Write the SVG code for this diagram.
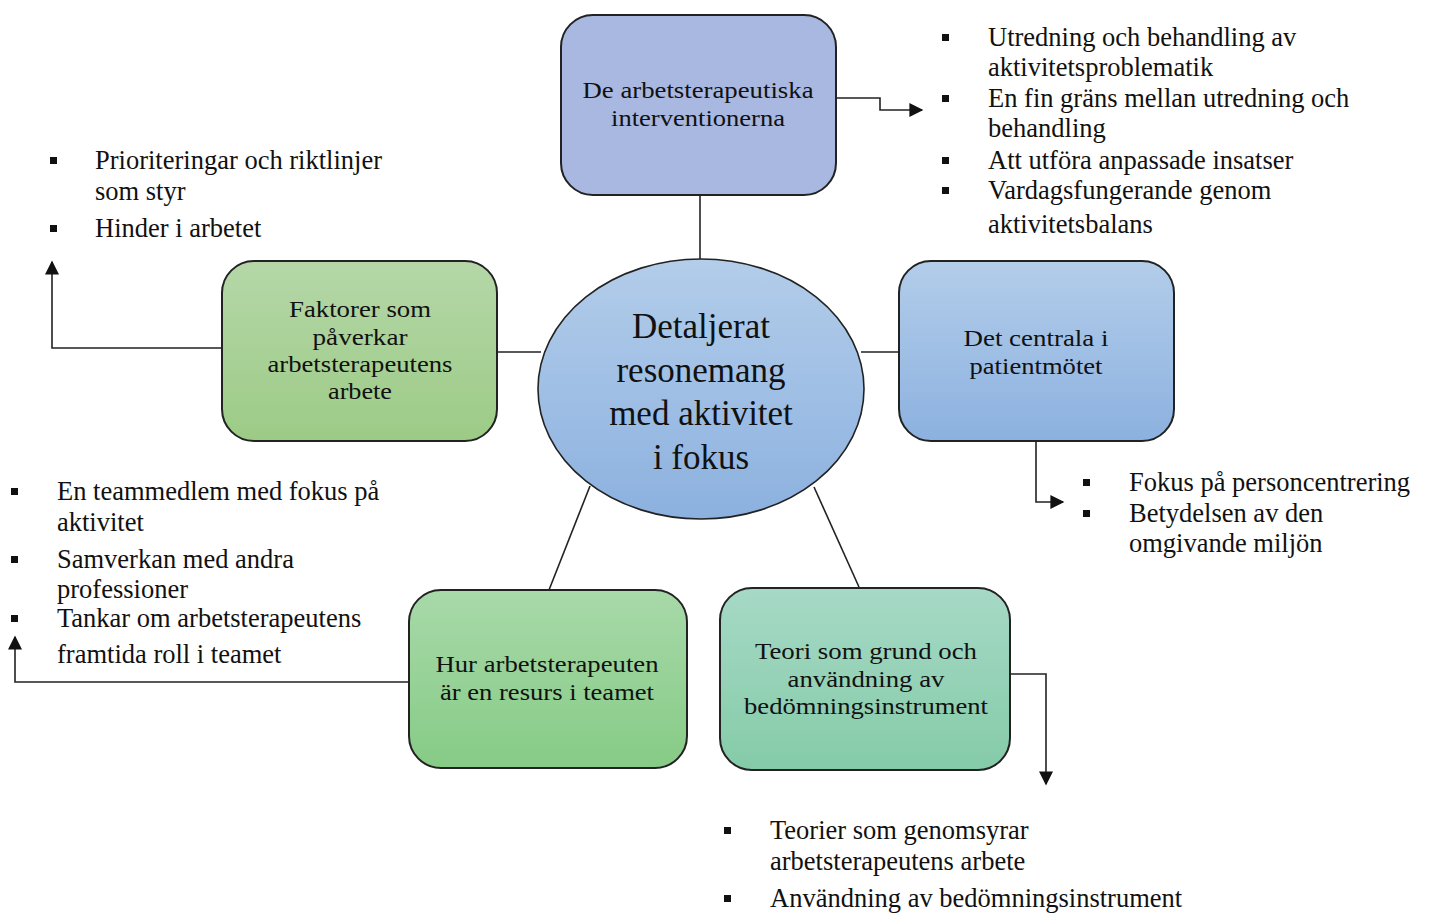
<svg xmlns="http://www.w3.org/2000/svg" width="1429" height="914" viewBox="0 0 1429 914">
<style>
.box{stroke:#222;stroke-width:2}
.nt{font-family:"Liberation Serif",serif;font-size:24px;fill:#111;text-anchor:middle}
.ct{font-family:"Liberation Serif",serif;font-size:35px;fill:#111;text-anchor:middle}
.bt{font-family:"Liberation Serif",serif;font-size:26.5px;fill:#111}
.ln{stroke:#222;stroke-width:1.6;fill:none}
.bul{fill:#111}
</style>
<defs>
<linearGradient id="gBlue" x1="0" y1="0" x2="0" y2="1"><stop offset="0" stop-color="#b3cdea"/><stop offset="1" stop-color="#8cb1df"/></linearGradient>
<linearGradient id="gGreen1" x1="0" y1="0" x2="0" y2="1"><stop offset="0" stop-color="#b5d7a8"/><stop offset="1" stop-color="#9ccb86"/></linearGradient>
<linearGradient id="gGreen2" x1="0" y1="0" x2="0" y2="1"><stop offset="0" stop-color="#a8d9a9"/><stop offset="1" stop-color="#86cb86"/></linearGradient>
<linearGradient id="gTeal" x1="0" y1="0" x2="0" y2="1"><stop offset="0" stop-color="#a6d9c6"/><stop offset="1" stop-color="#85cba8"/></linearGradient>
<marker id="arrL" viewBox="0 0 10 10" refX="9" refY="5" markerWidth="16" markerHeight="14" markerUnits="userSpaceOnUse" orient="auto"><path d="M0,0 L10,5 L0,10 z" fill="#111"/></marker>
</defs>

<g id="connectors">
<line class="ln" x1="700" y1="195" x2="700" y2="260"/>
<line class="ln" x1="497" y1="352" x2="541" y2="352"/>
<line class="ln" x1="861" y1="352" x2="899" y2="352"/>
<line class="ln" x1="590" y1="486" x2="549" y2="590"/>
<line class="ln" x1="814" y1="487" x2="859" y2="587"/>
<path class="ln" d="M836,98 H880 V110 H922" marker-end="url(#arrL)"/>
<path class="ln" d="M222,348 H52 V262" marker-end="url(#arrL)"/>
<path class="ln" d="M1036,441 V502 H1063" marker-end="url(#arrL)"/>
<path class="ln" d="M409,682 H15 V637" marker-end="url(#arrL)"/>
<path class="ln" d="M1010,674 H1046 V784" marker-end="url(#arrL)"/>
</g>

<g id="node-interventioner">
<rect class="box" x="561" y="15" width="275" height="180" rx="32" fill="#a9b8e0"/>
<text class="nt" x="698" y="98" textLength="231" lengthAdjust="spacingAndGlyphs">De arbetsterapeutiska</text>
<text class="nt" x="698" y="126" textLength="174" lengthAdjust="spacingAndGlyphs">interventionerna</text>
</g>

<g id="node-center">
<ellipse class="box" cx="701" cy="389" rx="163" ry="130" fill="url(#gBlue)" style="stroke-width:1.6"/>
<text class="ct" x="701" y="338">Detaljerat</text>
<text class="ct" x="701" y="382">resonemang</text>
<text class="ct" x="701" y="425">med aktivitet</text>
<text class="ct" x="701" y="469">i fokus</text>
</g>

<g id="node-faktorer">
<rect class="box" x="222" y="261" width="275" height="180" rx="32" fill="url(#gGreen1)"/>
<text class="nt" x="360" y="317" textLength="142" lengthAdjust="spacingAndGlyphs">Faktorer som</text>
<text class="nt" x="360" y="345" textLength="95" lengthAdjust="spacingAndGlyphs">påverkar</text>
<text class="nt" x="360" y="372" textLength="185" lengthAdjust="spacingAndGlyphs">arbetsterapeutens</text>
<text class="nt" x="360" y="399" textLength="64" lengthAdjust="spacingAndGlyphs">arbete</text>
</g>

<g id="node-centrala">
<rect class="box" x="899" y="261" width="275" height="180" rx="32" fill="url(#gBlue)"/>
<text class="nt" x="1036" y="346" textLength="145" lengthAdjust="spacingAndGlyphs">Det centrala i</text>
<text class="nt" x="1036" y="374" textLength="133" lengthAdjust="spacingAndGlyphs">patientmötet</text>
</g>

<g id="node-resurs">
<rect class="box" x="409" y="590" width="278" height="178" rx="32" fill="url(#gGreen2)"/>
<text class="nt" x="547" y="672" textLength="223" lengthAdjust="spacingAndGlyphs">Hur arbetsterapeuten</text>
<text class="nt" x="547" y="700" textLength="214" lengthAdjust="spacingAndGlyphs">är en resurs i teamet</text>
</g>

<g id="node-teori">
<rect class="box" x="720" y="588" width="290" height="182" rx="32" fill="url(#gTeal)"/>
<text class="nt" x="866" y="659" textLength="222" lengthAdjust="spacingAndGlyphs">Teori som grund och</text>
<text class="nt" x="866" y="687" textLength="157" lengthAdjust="spacingAndGlyphs">användning av</text>
<text class="nt" x="866" y="714" textLength="244" lengthAdjust="spacingAndGlyphs">bedömningsinstrument</text>
</g>

<g id="list-interventioner">
<rect class="bul" x="942" y="34" width="7" height="7"/>
<rect class="bul" x="942" y="95" width="7" height="7"/>
<rect class="bul" x="942" y="157" width="7" height="7"/>
<rect class="bul" x="942" y="187" width="7" height="7"/>
<text class="bt" x="988" y="46">Utredning och behandling av</text>
<text class="bt" x="988" y="76">aktivitetsproblematik</text>
<text class="bt" x="988" y="107">En fin gräns mellan utredning och</text>
<text class="bt" x="988" y="137">behandling</text>
<text class="bt" x="988" y="169">Att utföra anpassade insatser</text>
<text class="bt" x="988" y="199">Vardagsfungerande genom</text>
<text class="bt" x="988" y="233">aktivitetsbalans</text>
</g>

<g id="list-faktorer">
<rect class="bul" x="50" y="157" width="7" height="7"/>
<rect class="bul" x="50" y="225" width="7" height="7"/>
<text class="bt" x="95" y="169">Prioriteringar och riktlinjer</text>
<text class="bt" x="95" y="200">som styr</text>
<text class="bt" x="95" y="237">Hinder i arbetet</text>
</g>

<g id="list-centrala">
<rect class="bul" x="1083" y="479" width="7" height="7"/>
<rect class="bul" x="1083" y="510" width="7" height="7"/>
<text class="bt" x="1129" y="491">Fokus på personcentrering</text>
<text class="bt" x="1129" y="522">Betydelsen av den</text>
<text class="bt" x="1129" y="552">omgivande miljön</text>
</g>

<g id="list-resurs">
<rect class="bul" x="11" y="488" width="7" height="7"/>
<rect class="bul" x="11" y="556" width="7" height="7"/>
<rect class="bul" x="11" y="615" width="7" height="7"/>
<text class="bt" x="57" y="500">En teammedlem med fokus på</text>
<text class="bt" x="57" y="531">aktivitet</text>
<text class="bt" x="57" y="568">Samverkan med andra</text>
<text class="bt" x="57" y="598">professioner</text>
<text class="bt" x="57" y="627">Tankar om arbetsterapeutens</text>
<text class="bt" x="57" y="663">framtida roll i teamet</text>
</g>

<g id="list-teori">
<rect class="bul" x="724" y="827" width="7" height="7"/>
<rect class="bul" x="724" y="895" width="7" height="7"/>
<text class="bt" x="770" y="839">Teorier som genomsyrar</text>
<text class="bt" x="770" y="870">arbetsterapeutens arbete</text>
<text class="bt" x="770" y="907">Användning av bedömningsinstrument</text>
</g>
</svg>
